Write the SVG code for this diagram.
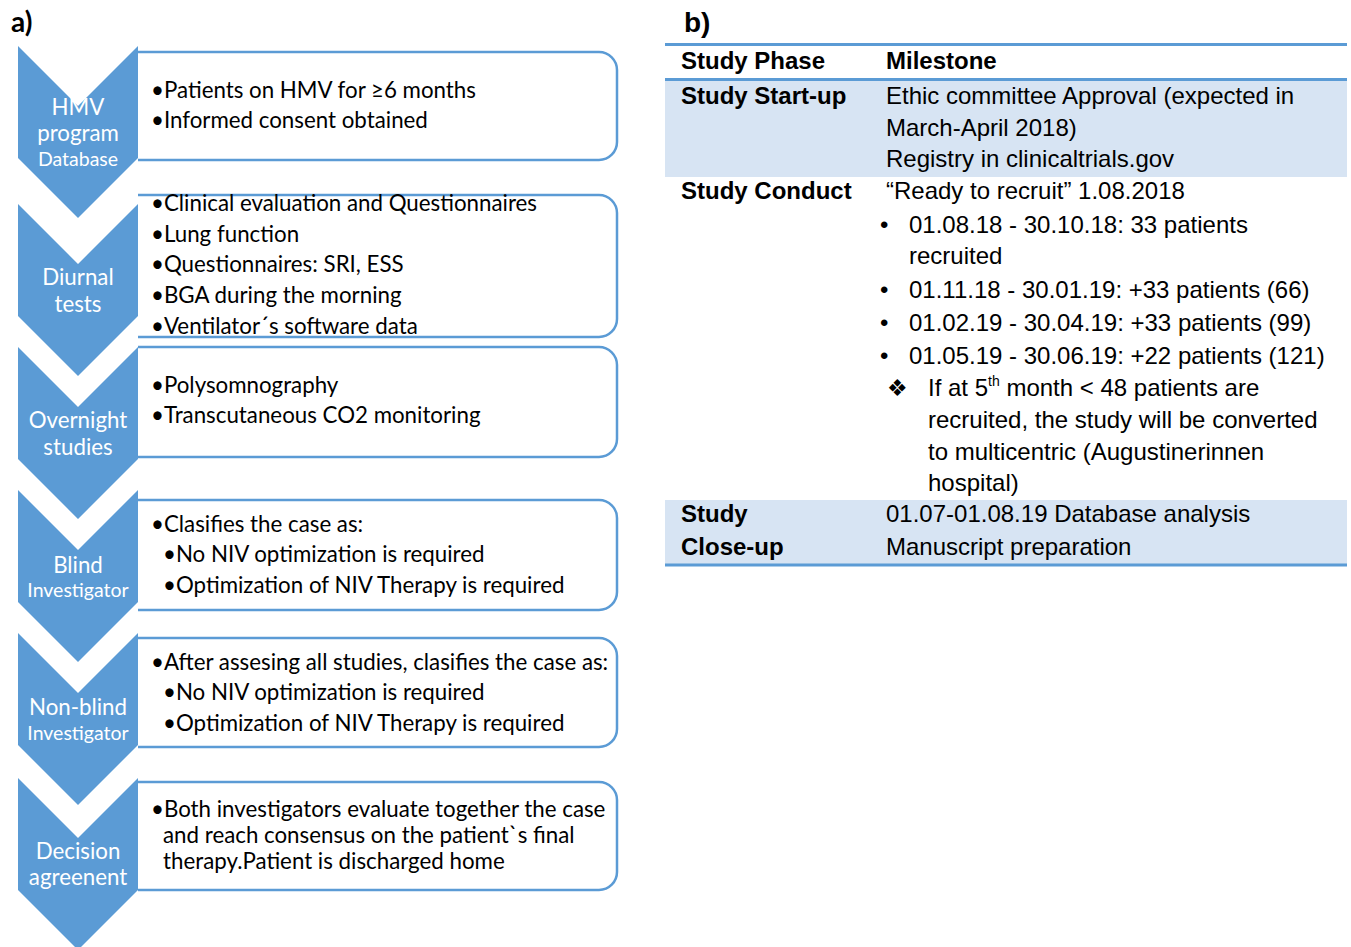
<svg xmlns="http://www.w3.org/2000/svg" width="1351" height="947" viewBox="0 0 1351 947">
<style>
.chev{fill:#5B9BD5}
.bg{fill:#FFFFFF}
.box{fill:none;stroke:#5B9BD5;stroke-width:2.5}
.ct{font-family:Lato,"Liberation Sans",sans-serif;font-size:22.3px;fill:#FFFFFF;text-anchor:middle}
.cs{font-size:19.5px}
.bt{font-family:Lato,"Liberation Sans",sans-serif;font-size:22.3px;fill:#000000}
.lbl{font-family:Lato,"Liberation Sans",sans-serif;font-size:28px;font-weight:bold;fill:#000000}
.tt{font-family:"Liberation Sans",Arial,sans-serif;font-size:24px;fill:#000000}
.th{font-weight:bold}
.rule{stroke:#5B9BD5;stroke-width:3}
.band{fill:#D7E4F3}
</style>
<rect width="1351" height="947" fill="#FFFFFF"/>
<text class="lbl" x="11" y="32">a)</text>

<g id="box1"><path class="box" d="M138,52 H599 A18,18 0 0 1 617,70 V142 A18,18 0 0 1 599,160 H138"/>
<text class="bt" x="151" y="98">•Patients on HMV for ≥6 months</text>
<text class="bt" x="151" y="128">•Informed consent obtained</text></g>
<g id="box2"><path class="box" d="M138,195 H599 A18,18 0 0 1 617,213 V319 A18,18 0 0 1 599,337 H138"/>
<text class="bt" x="151" y="211">•Clinical evaluation and Questionnaires</text>
<text class="bt" x="151" y="242">•Lung function</text>
<text class="bt" x="151" y="272">•Questionnaires: SRI, ESS</text>
<text class="bt" x="151" y="303">•BGA during the morning</text>
<text class="bt" x="151" y="334">•Ventilator´s software data</text></g>
<g id="box3"><path class="box" d="M138,347 H599 A18,18 0 0 1 617,365 V439 A18,18 0 0 1 599,457 H138"/>
<text class="bt" x="151" y="393">•Polysomnography</text>
<text class="bt" x="151" y="423">•Transcutaneous CO2 monitoring</text></g>
<g id="box4"><path class="box" d="M138,500 H599 A18,18 0 0 1 617,518 V592 A18,18 0 0 1 599,610 H138"/>
<text class="bt" x="151" y="532">•Clasifies the case as:</text>
<text class="bt" x="163" y="562">•No NIV optimization is required</text>
<text class="bt" x="163" y="593">•Optimization of NIV Therapy is required</text></g>
<g id="box5"><path class="box" d="M138,638 H599 A18,18 0 0 1 617,656 V729 A18,18 0 0 1 599,747 H138"/>
<text class="bt" x="151" y="670">•After assesing all studies, clasifies the case as:</text>
<text class="bt" x="163" y="700">•No NIV optimization is required</text>
<text class="bt" x="163" y="731">•Optimization of NIV Therapy is required</text></g>
<g id="box6"><path class="box" d="M138,782 H599 A18,18 0 0 1 617,800 V872 A18,18 0 0 1 599,890 H138"/>
<text class="bt" x="151" y="817">•Both investigators evaluate together the case</text>
<text class="bt" x="163" y="843">and reach consensus on the patient`s final</text>
<text class="bt" x="163" y="869">therapy.Patient is discharged home</text></g>

<g id="chev1"><polygon class="chev" points="18,46 78,106 138,46 138,158 78,218 18,158"/>
<text class="ct" x="78" y="115">HMV</text><text class="ct" x="78" y="141">program</text><text class="ct cs" x="78" y="166">Database</text></g>
<g id="chev2"><polygon class="chev" points="18,204 78,264 138,204 138,316 78,376 18,316"/>
<text class="ct" x="78" y="285">Diurnal</text><text class="ct" x="78" y="312">tests</text></g>
<g id="chev3"><polygon class="chev" points="18,347 78,407 138,347 138,459 78,519 18,459"/>
<text class="ct" x="78" y="428">Overnight</text><text class="ct" x="78" y="455">studies</text></g>
<g id="chev4"><polygon class="chev" points="18,490 78,550 138,490 138,602 78,662 18,602"/>
<text class="ct" x="78" y="573">Blind</text><text class="ct cs" x="78" y="597">Investigator</text></g>
<g id="chev5"><polygon class="chev" points="18,633 78,693 138,633 138,745 78,805 18,745"/>
<text class="ct" x="78" y="715">Non-blind</text><text class="ct cs" x="78" y="740">Investigator</text></g>
<g id="chev6"><polygon class="chev" points="18,778 78,838 138,778 138,890 78,950 18,890"/>
<text class="ct" x="78" y="859">Decision</text><text class="ct" x="78" y="885">agreenent</text></g>
<g id="connectors"></g>

<g id="table">
<text class="tt th" x="684" y="32" style="font-size:28px">b)</text>
<rect class="band" x="665" y="80" width="682" height="97"/>
<rect class="band" x="665" y="500" width="682" height="64"/>
<line class="rule" x1="665" y1="44.5" x2="1347" y2="44.5"/>
<line class="rule" x1="665" y1="79.5" x2="1347" y2="79.5"/>
<line class="rule" x1="665" y1="565" x2="1347" y2="565"/>
<text class="tt th" x="681" y="69">Study Phase</text>
<text class="tt th" x="886" y="69">Milestone</text>
<text class="tt th" x="681" y="104">Study Start-up</text>
<text class="tt" x="886" y="104">Ethic committee Approval (expected in</text>
<text class="tt" x="886" y="135.5">March-April 2018)</text>
<text class="tt" x="886" y="167">Registry in clinicaltrials.gov</text>
<text class="tt th" x="681" y="199">Study Conduct</text>
<text class="tt" x="886" y="199">“Ready to recruit” 1.08.2018</text>
<text class="tt" x="880" y="233">•</text><text class="tt" x="909" y="233">01.08.18 - 30.10.18: 33 patients</text>
<text class="tt" x="909" y="264">recruited</text>
<text class="tt" x="880" y="298">•</text><text class="tt" x="909" y="298">01.11.18 - 30.01.19: +33 patients (66)</text>
<text class="tt" x="880" y="331">•</text><text class="tt" x="909" y="331">01.02.19 - 30.04.19: +33 patients (99)</text>
<text class="tt" x="880" y="364">•</text><text class="tt" x="909" y="364">01.05.19 - 30.06.19: +22 patients (121)</text>
<text class="tt" x="887" y="396" style="font-size:23px">❖</text>
<text class="tt" x="928" y="396">If at 5<tspan dy="-10" style="font-size:14px">th</tspan><tspan dy="10"> month &lt; 48 patients are</tspan></text>
<text class="tt" x="928" y="428">recruited, the study will be converted</text>
<text class="tt" x="928" y="460">to multicentric (Augustinerinnen</text>
<text class="tt" x="928" y="491">hospital)</text>
<text class="tt th" x="681" y="522">Study</text>
<text class="tt" x="886" y="522">01.07-01.08.19 Database analysis</text>
<text class="tt th" x="681" y="555">Close-up</text>
<text class="tt" x="886" y="555">Manuscript preparation</text>
</g>
</svg>
